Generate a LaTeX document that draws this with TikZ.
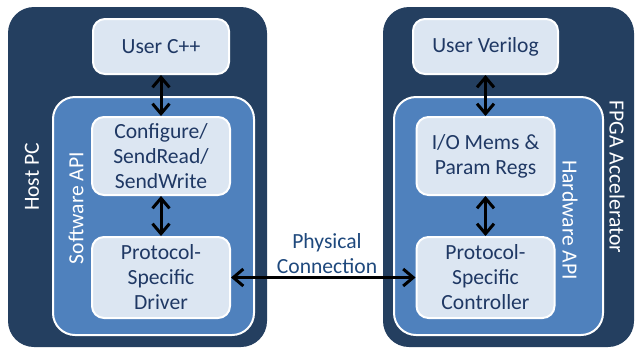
\documentclass[tikz,border=0pt]{standalone}
\usepackage{fontspec}
\setmainfont{Carlito}
\usetikzlibrary{arrows.meta}
\definecolor{outernavy}{HTML}{243F60}
\definecolor{apiblue}{HTML}{4F81BD}
\definecolor{blockfill}{HTML}{DCE6F2}
\definecolor{blocktext}{HTML}{1F3864}
\definecolor{linktext}{HTML}{1F497D}
\tikzset{
  outerbox/.style={fill=outernavy,rounded corners=13pt,inner sep=0pt},
  apibox/.style={fill=apiblue,draw=white,line width=1pt,rounded corners=11pt,inner sep=0pt},
  block/.style={fill=blockfill,draw=white,line width=1pt,rounded corners=6pt,
    text=blocktext,align=center,inner sep=0pt,font=\fontsize{10.8}{12.5}\selectfont},
  sidelabel/.style={text=white,font=\fontsize{10.8}{12.5}\selectfont},
  linklabel/.style={text=linktext,align=center,font=\fontsize{10.8}{12.5}\selectfont},
  biarrow/.style={{Straight Barb[length=5pt,width=8.5pt]}-{Straight Barb[length=5pt,width=8.5pt]},line width=1.5pt}
}
\begin{document}
\begin{tikzpicture}[x=0.5pt,y=-0.5pt]
 \useasboundingbox (0,0) rectangle (636,349);
 % host side
 \node[outerbox,minimum width=129.5pt,minimum height=170pt] (host) at (137.5,177) {};
 \node[apibox,minimum width=100.5pt,minimum height=119pt] (swapi) at (153.5,216) {};
 \node[block,minimum width=68pt,minimum height=27.5pt] (userc) at (161,46.5) {User C++};
 \node[block,minimum width=69pt,minimum height=39pt] (config) at (161,156) {Configure/\\SendRead/\\SendWrite};
 \node[block,minimum width=69pt,minimum height=40.5pt] (driver) at (161,277.5) {Protocol-\\Specific\\Driver};
 \node[sidelabel,rotate=90] (hostlbl) at (32,177) {Host PC};
 \node[sidelabel,rotate=90] (swlbl) at (76,208) {Software API};
 % fpga side
 \node[outerbox,minimum width=125.5pt,minimum height=170pt] (fpga) at (508.5,177) {};
 \node[apibox,minimum width=104.5pt,minimum height=119pt] (hwapi) at (498.5,216) {};
 \node[block,minimum width=72.5pt,minimum height=27.5pt] (userv) at (485.5,46.5) {User Verilog};
 \node[block,minimum width=69pt,minimum height=39pt] (iomem) at (485.5,156) {I/O Mems \&\\Param Regs};
 \node[block,minimum width=69pt,minimum height=40.5pt] (ctrl) at (485.5,277.5) {Protocol-\\Specific\\Controller};
 \node[sidelabel,rotate=-90] (fpgalbl) at (617,177) {FPGA Accelerator};
 \node[sidelabel,rotate=-90] (hwlbl) at (570,220) {Hardware API};
 % connections
 \draw[biarrow] (userc) -- (config);
 \draw[biarrow] (config) -- (driver);
 \draw[biarrow] (userv) -- (iomem);
 \draw[biarrow] (iomem) -- (ctrl);
 \draw[biarrow] (driver) -- (ctrl);
 \node[linklabel] (phys) at (327,254) {Physical\\Connection};
\end{tikzpicture}
\end{document}
